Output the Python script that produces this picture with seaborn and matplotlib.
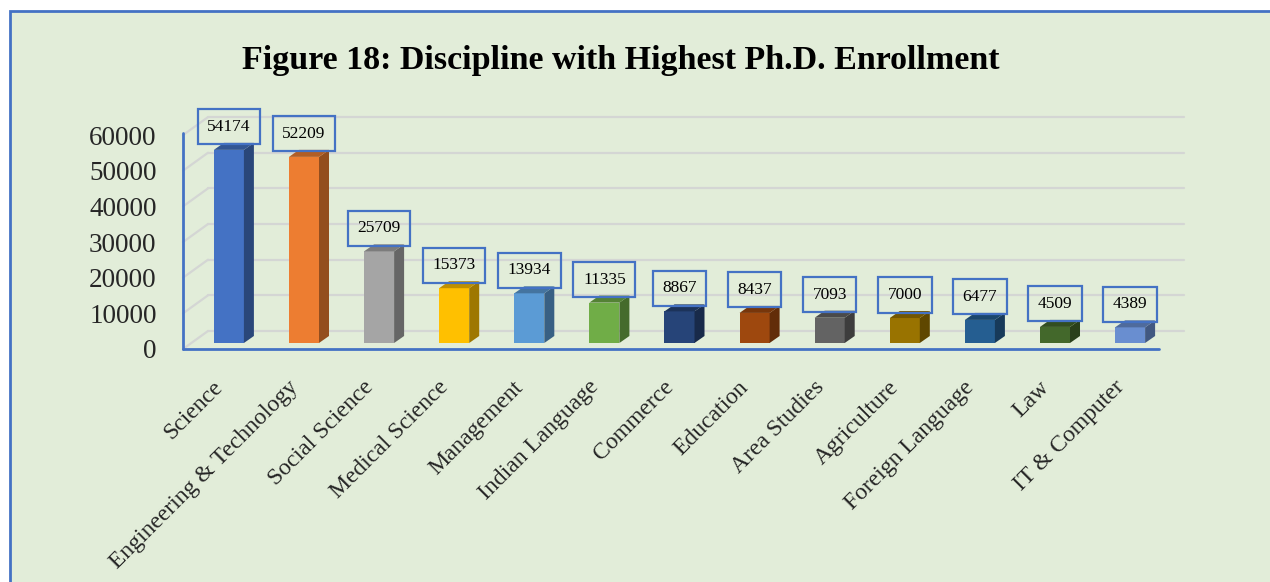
import numpy as np
import pandas as pd

import matplotlib as mpl
import matplotlib.pyplot as plt
from matplotlib.patches import Polygon, Rectangle
from matplotlib.transforms import Affine2D, ScaledTranslation

import seaborn as sns

# Data
disciplines = [
    "Science", "Engineering & Technology", "Social Science",
    "Medical Science", "Management", "Indian Language", "Commerce",
    "Education", "Area Studies", "Agriculture", "Foreign Language",
    "Law", "IT & Computer",
]
enrollment = [
    54174, 52209, 25709, 15373, 13934, 11335, 8867,
    8437, 7093, 7000, 6477, 4509, 4389,
]
bar_colors = [
    "#4472C4", "#ED7D31", "#A5A5A5", "#FFC000", "#5B9BD5", "#70AD47",
    "#264478", "#9E480E", "#636363", "#997300", "#255E91", "#43682B",
    "#698ED0",
]
y_ticks = [0, 10000, 20000, 30000, 40000, 50000, 60000]

BG = "#E2EDD9"
EDGE_BLUE = "#4472C4"
GRID = "#D4D6D4"

sns.set_style("white")
mpl.rcParams["font.family"] = ["Liberation Serif", "DejaVu Serif"]

fig = plt.figure(figsize=(12.7, 5.82), dpi=100)
fig.patch.set_facecolor("white")
fig.patches.append(
    Rectangle((10 / 1270, -0.01), 1.1, 1 - 11 / 582 + 0.01,
              transform=fig.transFigure, facecolor=BG,
              edgecolor=EDGE_BLUE, linewidth=2, zorder=-10)
)

# axes placed in pixels (front plane of the 3D box)
left, right, top, bottom = 183, 1190, 100, 360
ax = fig.add_axes([left / 1270, (582 - bottom) / 582,
                   (right - left) / 1270, (bottom - top) / 582])
ax.set_facecolor("none")

px_per_cat = 75.1
px_per_val = 0.003565
zero_px = 349

# depth of the floor / bars, converted from pixels to data units
floor_dx, floor_dy = 25 / px_per_cat, 18 / px_per_val
bar_dx0, bar_dy0 = floor_dx / 3, floor_dy / 3
bar_tx, bar_ty = 10 / px_per_cat, 7 / px_per_val

df = pd.DataFrame({"discipline": disciplines, "value": enrollment})

n = len(disciplines)
x0, x1 = -0.5, n - 0.5

sns.barplot(
    data=df,
    x="discipline",
    y="value",
    hue="discipline",
    palette=bar_colors,
    width=0.4,
    saturation=1,
    legend=False,
    ax=ax,
    zorder=3,
)

# seaborn resets limits, so fix them afterwards
ax.set_xlim(-0.5, -0.5 + (right - left) / px_per_cat)
ax.set_ylim(-(bottom - zero_px) / px_per_val, (zero_px - top) / px_per_val)

# back wall gridlines and left wall diagonals
for v in y_ticks:
    ax.plot([x0 + floor_dx, x1 + floor_dx], [v + floor_dy, v + floor_dy],
            color=GRID, linewidth=1.6, zorder=0, clip_on=False)
    ax.plot([x0, x0 + floor_dx], [v, v + floor_dy],
            color=GRID, linewidth=1.6, zorder=0, clip_on=False)

shift = Affine2D().translate(bar_dx0, bar_dy0) + ax.transData

for patch, color, value in zip(ax.patches, bar_colors, enrollment):
    patch.set_transform(shift)
    patch.set_edgecolor("none")
    bx0 = patch.get_x()
    bx1 = bx0 + patch.get_width()
    h = patch.get_height()
    rgb = np.array(mpl.colors.to_rgb(color))

    side = Polygon(
        [(bx1, 0), (bx1 + bar_tx, bar_ty), (bx1 + bar_tx, h + bar_ty), (bx1, h)],
        closed=True, facecolor=rgb * 0.62, edgecolor="none",
        transform=shift, zorder=3,
    )
    topf = Polygon(
        [(bx0, h), (bx1, h), (bx1 + bar_tx, h + bar_ty), (bx0 + bar_tx, h + bar_ty)],
        closed=True, facecolor=rgb * 0.75, edgecolor="none",
        transform=shift, zorder=3,
    )
    ax.add_patch(side)
    ax.add_patch(topf)

    # data label box
    ax.annotate(
        f"{value}",
        xy=((bx0 + bx1) / 2 + bar_dx0, h + bar_dy0),
        xytext=(0, 23),
        textcoords="offset pixels",
        ha="center",
        va="center",
        fontsize=12.5,
        color="black",
        bbox=dict(boxstyle="square,pad=0.55", facecolor="none",
                  edgecolor=EDGE_BLUE, linewidth=1.6),
        zorder=5,
        annotation_clip=False,
    )

# front axis lines
ax.plot([x0, x1], [0, 0], color=EDGE_BLUE, linewidth=2, zorder=2,
        clip_on=False)
ax.plot([x0, x0], [0, 60000 + 600], color=EDGE_BLUE, linewidth=2,
        zorder=2, clip_on=False)

for s in ax.spines.values():
    s.set_visible(False)

ax.set_yticks(y_ticks)
ax.set_yticklabels([str(v) for v in y_ticks])
ax.tick_params(axis="y", length=0, pad=19, labelsize=19.5)

ax.set_xticks(range(n))
ax.set_xticklabels(disciplines, rotation=45, ha="right",
                   rotation_mode="anchor")
ax.tick_params(axis="x", length=0, pad=12, labelsize=17)

# nudge rotated labels a little to the left
nudge = ScaledTranslation(-8 / 100, 0, fig.dpi_scale_trans)
for label in ax.get_xticklabels():
    label.set_transform(label.get_transform() + nudge)

ax.set_xlabel("")
ax.set_ylabel("")
ax.grid(False)

fig.text(
    621 / 1270, 1 - 60 / 582,
    "Figure 18: Discipline with Highest Ph.D. Enrollment",
    ha="center", va="center", fontsize=24.5, fontweight="bold",
    color="black",
)

fig.savefig("out.png", dpi=100, facecolor=fig.get_facecolor())
